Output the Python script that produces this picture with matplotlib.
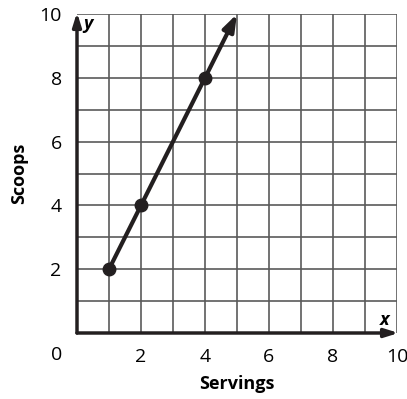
import matplotlib
matplotlib.use("Agg")
import matplotlib.pyplot as plt

servings = [1, 2, 4]
scoops = [2, 4, 8]
line_end = (5, 10)
ticks = [2, 4, 6, 8, 10]

plt.rcParams['font.family'] = ['Open Sans', 'DejaVu Sans']

fig = plt.figure(figsize=(4.07, 3.99), dpi=100)
ax = fig.add_axes([77 / 407, 66 / 399, 320 / 407, 319 / 399])
ax.set_xlim(0, 10)
ax.set_ylim(0, 10)

# grid
for v in range(1, 11):
    ax.axvline(v, color='#5a5a5a', lw=1.2, zorder=1)
    ax.axhline(v, color='#5a5a5a', lw=1.2, zorder=1)

for s in ax.spines.values():
    s.set_visible(False)

# axes with arrows
ax.annotate('', xy=(0, 10.05), xytext=(0, 0), xycoords='data',
            arrowprops=dict(arrowstyle='-|>,head_length=0.8,head_width=0.25', color='#231f20', lw=2.5,
                            shrinkA=0, shrinkB=0), annotation_clip=False)
ax.annotate('', xy=(10.05, 0), xytext=(0, 0), xycoords='data',
            arrowprops=dict(arrowstyle='-|>,head_length=0.8,head_width=0.25', color='#231f20', lw=2.5,
                            shrinkA=0, shrinkB=0), annotation_clip=False)

# data line
ax.annotate('', xy=line_end, xytext=(servings[0], scoops[0]),
            arrowprops=dict(arrowstyle='-|>,head_length=1.0,head_width=0.35', color='#231f20', lw=3,
                            shrinkA=0, shrinkB=0), annotation_clip=False)
ax.plot(servings, scoops, 'o', color='#231f20', ms=9, zorder=5)

ax.set_xticks(ticks)
ax.set_yticks(ticks)
ax.tick_params(length=0, labelsize=14, pad=11)
ax.set_xticklabels([str(t) for t in ticks])
ax.set_yticklabels([str(t) for t in ticks])
ax.text(-0.65, -0.68, '0', ha='center', va='center', fontsize=14, clip_on=False)

ax.text(0.35, 9.7, 'y', fontsize=13, fontweight='bold', style='italic', ha='center', va='center')
ax.text(9.6, 0.4, 'x', fontsize=13, fontweight='bold', style='italic', ha='center', va='center')

ax.set_xlabel('Servings', fontsize=13, fontweight='bold', labelpad=6)
ax.set_ylabel('Scoops', fontsize=13, fontweight='bold', labelpad=8)

fig.savefig('out.png', dpi=100)
